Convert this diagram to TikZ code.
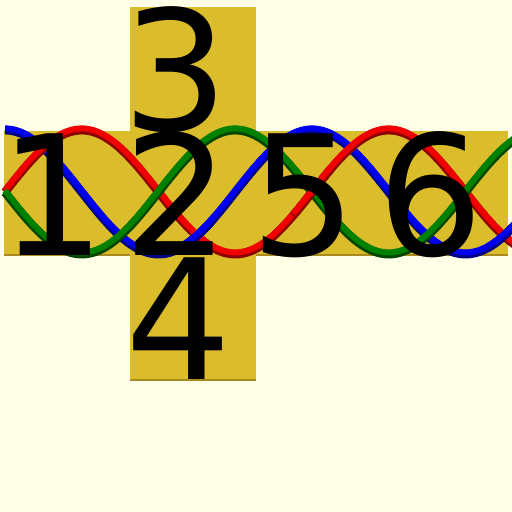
\documentclass[tikz,border=0pt]{standalone}
\usepackage{fontspec}
\newfontfamily\digitfont{DejaVu Sans}
\definecolor{bgc}{RGB}{255,255,232}
\definecolor{gold}{RGB}{219,188,43}
\definecolor{golddark}{RGB}{168,138,30}
\definecolor{rbright}{RGB}{240,0,0}
\definecolor{rdark}{RGB}{140,0,0}
\definecolor{gbright}{RGB}{0,130,0}
\definecolor{gdark}{RGB}{0,70,0}
\definecolor{bbright}{RGB}{0,0,240}
\definecolor{bdark}{RGB}{0,0,130}
\tikzset{
  face/.style={fill=gold, draw=none},
  faceedge/.style={fill=golddark, draw=none},
  digit/.style={anchor=base west, inner sep=0pt, outer sep=0pt, font=\digitfont\fontsize{167}{167}\selectfont, text=black},
  tubedark/.style={line width=8.5pt, line cap=butt, line join=round, yshift=-1.2pt},
  tubebright/.style={line width=6pt, line cap=butt, line join=round, yshift=0.6pt}
}
\newcommand{\redcurve}[2]{plot[domain=#1:#2, samples=200] (\x, {191-62*sin(1.172638*(\x-5))})}
\newcommand{\greencurve}[2]{plot[domain=#1:#2, samples=200] (\x, {191+62*sin(1.172638*(\x-5))})}
\newcommand{\bluecurve}[2]{plot[domain=#1:#2, samples=200] (\x, {191-62*cos(1.172638*(\x-5))})}
\begin{document}
\begin{tikzpicture}[x=1pt, y=-1pt]
  \fill[bgc] (0,0) rectangle (512,512);
  \useasboundingbox (0,0) rectangle (512,512);
  \clip (0,0) rectangle (512,512);
  % faces of the net
  \fill[face] (4,131) rectangle (507.5,256);
  \fill[face] (130,6.5) rectangle (256,131);
  \fill[face] (130,256) rectangle (256,381);
  \fill[faceedge] (4,254) rectangle (130,256);
  \fill[faceedge] (256,254) rectangle (507.5,256);
  \fill[faceedge] (130,379) rectangle (256,381);
  % braided curves
  \draw[tubedark, bdark] \bluecurve{5}{515};
  \draw[tubebright, bbright] \bluecurve{5}{515};
  \draw[tubedark, rdark] \redcurve{5}{515};
  \draw[tubebright, rbright] \redcurve{5}{515};
  \draw[tubedark, gdark] \greencurve{5}{515};
  \draw[tubebright, gbright] \greencurve{5}{515};
  % crossing corrections
  \draw[tubedark, rdark] \redcurve{293}{331};
  \draw[tubebright, rbright] \redcurve{293}{331};
  \draw[tubedark, bdark] \bluecurve{180}{214};
  \draw[tubebright, bbright] \bluecurve{180}{214};
  \draw[tubedark, bdark] \bluecurve{488}{515};
  \draw[tubebright, bbright] \bluecurve{488}{515};
  % digits
  \node[digit] (d1) at (-1,255) {1};
  \node[digit] (d2) at (123,255) {2};
  \node[digit] (d3) at (122,130) {3};
  \node[digit] (d4) at (125,379) {4};
  \node[digit] (d5) at (250,255) {5};
  \node[digit] (d6) at (377,255) {6};
\end{tikzpicture}
\end{document}
